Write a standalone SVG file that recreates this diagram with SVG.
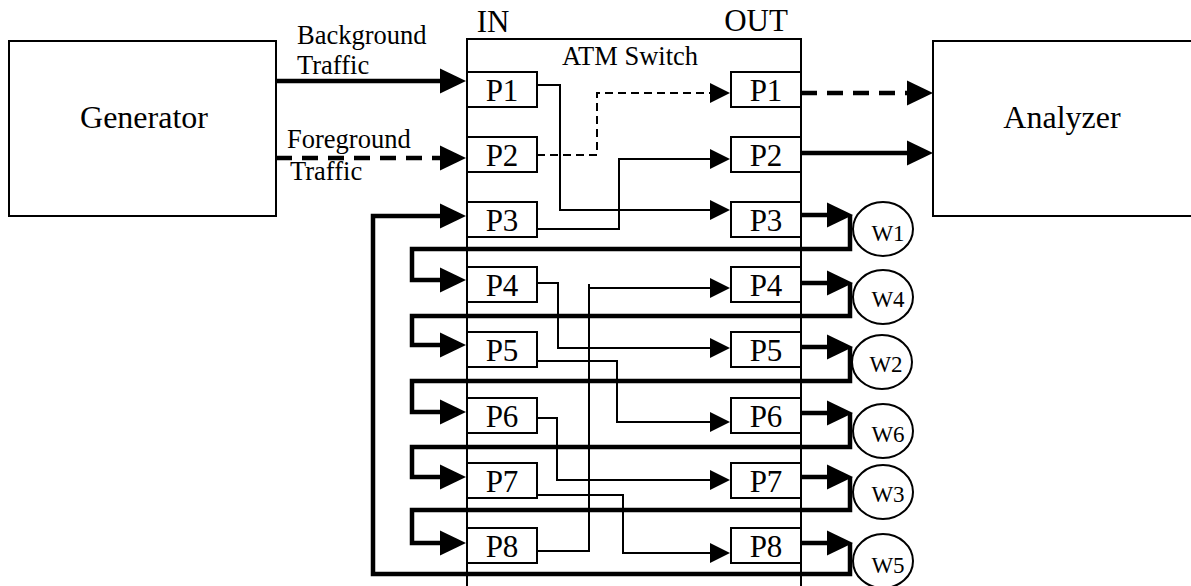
<svg xmlns="http://www.w3.org/2000/svg" width="1191" height="586" viewBox="0 0 1191 586">
<style>
.box{fill:#fff;stroke:#000;stroke-width:2}
.frame{fill:none;stroke:#000;stroke-width:2}
.thick{fill:none;stroke:#000;stroke-width:4.5}
.thin{fill:none;stroke:#000;stroke-width:2}
.dT{stroke-dasharray:16 10}
.dt{stroke-dasharray:8 5}
text{font-family:"Liberation Serif","Times New Roman",serif;fill:#000}
.big{font-size:32px}
.port{font-size:31px;text-anchor:middle}
.lbl{font-size:26.5px}
.w{font-size:23px;text-anchor:middle}
</style>
<defs>
<marker id="ah" markerUnits="userSpaceOnUse" markerWidth="26" markerHeight="25" refX="16" refY="12.5" orient="auto" overflow="visible">
<path d="M0,0 L26,12.5 L0,25 Z" fill="#000"/>
</marker>
<marker id="as" markerUnits="userSpaceOnUse" markerWidth="20" markerHeight="20" refX="14" refY="10" orient="auto" overflow="visible">
<path d="M0,0 L20,10 L0,20 Z" fill="#000"/>
</marker>
</defs>

<g id="generator">
<rect class="box" x="9" y="41" width="267" height="175"/>
<text class="big" x="144" y="128" text-anchor="middle">Generator</text>
</g>
<g id="analyzer">
<rect class="box" x="933" y="41" width="270" height="175"/>
<text class="big" x="1062" y="128" text-anchor="middle">Analyzer</text>
</g>

<g id="atm-switch">
<rect class="frame" x="467" y="39" width="334" height="600"/>
<text class="port" x="493" y="32">IN</text>
<text class="port" x="756" y="31">OUT</text>
<text class="lbl" x="630" y="65" text-anchor="middle" font-size="26">ATM Switch</text>
</g>

<g id="in-ports">
<g id="in-p1"><rect class="box" x="467" y="72" width="70" height="35"/><text class="port" x="502" y="101">P1</text></g>
<g id="in-p2"><rect class="box" x="467" y="137" width="70" height="35"/><text class="port" x="502" y="166">P2</text></g>
<g id="in-p3"><rect class="box" x="467" y="202" width="70" height="35"/><text class="port" x="502" y="231">P3</text></g>
<g id="in-p4"><rect class="box" x="467" y="267" width="70" height="35"/><text class="port" x="502" y="296">P4</text></g>
<g id="in-p5"><rect class="box" x="467" y="332" width="70" height="35"/><text class="port" x="502" y="361">P5</text></g>
<g id="in-p6"><rect class="box" x="467" y="398" width="70" height="35"/><text class="port" x="502" y="427">P6</text></g>
<g id="in-p7"><rect class="box" x="467" y="463" width="70" height="35"/><text class="port" x="502" y="492">P7</text></g>
<g id="in-p8"><rect class="box" x="467" y="528" width="70" height="35"/><text class="port" x="502" y="557">P8</text></g>
</g>

<g id="out-ports">
<g id="out-p1"><rect class="box" x="731" y="72" width="70" height="35"/><text class="port" x="766" y="101">P1</text></g>
<g id="out-p2"><rect class="box" x="731" y="137" width="70" height="35"/><text class="port" x="766" y="166">P2</text></g>
<g id="out-p3"><rect class="box" x="731" y="202" width="70" height="35"/><text class="port" x="766" y="231">P3</text></g>
<g id="out-p4"><rect class="box" x="731" y="267" width="70" height="35"/><text class="port" x="766" y="296">P4</text></g>
<g id="out-p5"><rect class="box" x="731" y="332" width="70" height="35"/><text class="port" x="766" y="361">P5</text></g>
<g id="out-p6"><rect class="box" x="731" y="398" width="70" height="35"/><text class="port" x="766" y="427">P6</text></g>
<g id="out-p7"><rect class="box" x="731" y="463" width="70" height="35"/><text class="port" x="766" y="492">P7</text></g>
<g id="out-p8"><rect class="box" x="731" y="528" width="70" height="35"/><text class="port" x="766" y="557">P8</text></g>
</g>

<g id="wires">
<g id="w1"><ellipse class="box" cx="883" cy="229" rx="30" ry="27"/><text class="w" x="888" y="241">W1</text></g>
<g id="w4"><ellipse class="box" cx="883" cy="297" rx="30" ry="27"/><text class="w" x="888" y="307">W4</text></g>
<g id="w2"><ellipse class="box" cx="882" cy="362" rx="30" ry="27"/><text class="w" x="886" y="372">W2</text></g>
<g id="w6"><ellipse class="box" cx="883" cy="431" rx="30" ry="27"/><text class="w" x="888" y="442">W6</text></g>
<g id="w3"><ellipse class="box" cx="883" cy="492" rx="30" ry="27"/><text class="w" x="888" y="502">W3</text></g>
<g id="w5"><ellipse class="box" cx="883" cy="561" rx="30" ry="27"/><text class="w" x="888" y="573">W5</text></g>
</g>

<g id="labels">
<text class="lbl" x="297" y="44">Background</text>
<text class="lbl" x="297" y="74">Traffic</text>
<text class="lbl" x="287" y="148">Foreground</text>
<text class="lbl" x="290" y="180">Traffic</text>
</g>

<g id="connectors">
<!-- generator to switch -->
<path class="thick" d="M276,81 H456" marker-end="url(#ah)"/>
<path class="thick dT" d="M276,158 H456" marker-end="url(#ah)"/>
<!-- switch to analyzer -->
<path class="thick dT" d="M801,93 H923" marker-end="url(#ah)"/>
<path class="thick" d="M801,153 H923" marker-end="url(#ah)"/>
<!-- out ports to wires -->
<path class="thick" d="M801,215 H843" marker-end="url(#ah)"/>
<path class="thick" d="M801,283 H843" marker-end="url(#ah)"/>
<path class="thick" d="M801,347 H843" marker-end="url(#ah)"/>
<path class="thick" d="M801,413 H843" marker-end="url(#ah)"/>
<path class="thick" d="M801,477 H843" marker-end="url(#ah)"/>
<path class="thick" d="M801,543 H843" marker-end="url(#ah)"/>
<!-- wire loops back to input ports -->
<path class="thick" d="M850,215 V249 H412 V280 H456" marker-end="url(#ah)"/>
<path class="thick" d="M850,283 V316 H412 V345 H456" marker-end="url(#ah)"/>
<path class="thick" d="M850,347 V381 H412 V412 H456" marker-end="url(#ah)"/>
<path class="thick" d="M850,413 V447 H412 V477 H456" marker-end="url(#ah)"/>
<path class="thick" d="M850,477 V510 H412 V543 H456" marker-end="url(#ah)"/>
<path class="thick" d="M850,543 V574 H373 V216 H456" marker-end="url(#ah)"/>
<!-- internal switch paths -->
<path class="thin" d="M537,85 H560 V210 H724" marker-end="url(#as)"/>
<path class="thin dt" d="M537,155 H597 V93 H724" marker-end="url(#as)"/>
<path class="thin" d="M537,229 H619 V159 H724" marker-end="url(#as)"/>
<path class="thin" d="M537,283 H558 V348 H724" marker-end="url(#as)"/>
<path class="thin" d="M537,361 H617 V422 H724" marker-end="url(#as)"/>
<path class="thin" d="M537,418 H557 V480 H724" marker-end="url(#as)"/>
<path class="thin" d="M537,495 H623 V553 H724" marker-end="url(#as)"/>
<path class="thin" d="M537,551 H589 V284 M589,288 H724" marker-end="url(#as)"/>
</g>
</svg>
